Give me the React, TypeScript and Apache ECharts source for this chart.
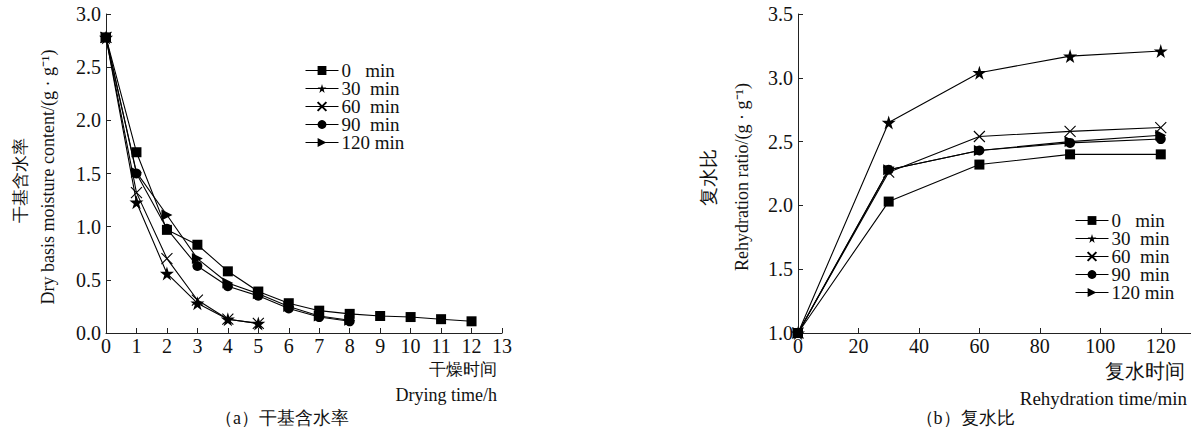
import React, { useEffect, useRef } from "react";
import * as echarts from "echarts";

const legendNames = ["0\u00a0\u00a0\u00a0min", "30\u00a0\u00a0min", "60\u00a0\u00a0min", "90\u00a0\u00a0min", "120\u00a0min"];

// (a) drying
const dryTime = [0, 1, 2, 3, 4, 5, 6, 7, 8, 9, 10, 11, 12];
const dry0 = [2.78, 1.7, 0.97, 0.83, 0.58, 0.39, 0.28, 0.21, 0.18, 0.16, 0.15, 0.13, 0.11];
const dry30 = [2.78, 1.23, 0.56, 0.28, 0.13, 0.09];
const dry60 = [2.78, 1.32, 0.7, 0.31, 0.13, 0.09];
const dry90 = [2.78, 1.5, 0.98, 0.63, 0.44, 0.35, 0.23, 0.15, 0.11];
const dry120 = [2.78, 1.51, 1.11, 0.7, 0.47, 0.37, 0.25, 0.16, 0.12];
const dryXTicks = [0, 1, 2, 3, 4, 5, 6, 7, 8, 9, 10, 11, 12, 13];
const dryYTicks = [0, 0.5, 1.0, 1.5, 2.0, 2.5, 3.0];

// (b) rehydration
const rehyTime = [0, 30, 60, 90, 120];
const rehy0 = [1.0, 2.03, 2.32, 2.4, 2.4];
const rehy30 = [1.0, 2.65, 3.04, 3.17, 3.21];
const rehy60 = [1.0, 2.26, 2.54, 2.58, 2.61];
const rehy90 = [1.0, 2.28, 2.43, 2.49, 2.52];
const rehy120 = [1.0, 2.28, 2.43, 2.5, 2.55];
const rehyXTicks = [0, 20, 40, 60, 80, 100, 120];
const rehyYTicks = [1.0, 1.5, 2.0, 2.5, 3.0, 3.5];

const STAR = "path://M50,0 L61,35 L98,35 L68,57 L79,91 L50,70 L21,91 L32,57 L2,35 L39,35 Z";
const CROSS = "path://M0,0 L10,10 M10,0 L0,10";
const TRI = "path://M0,0 L10,5 L0,10 Z";
const symbols = ["rect", STAR, CROSS, "circle", TRI];
const sizes = [10, 14, 11, 10, 11];

const FONT = "Liberation Serif";

function buildSeries(xs: number[], lists: number[][], idx: number) {
  return lists.map((vals, i) => ({
    type: "line",
    name: legendNames[i],
    xAxisIndex: idx,
    yAxisIndex: idx,
    data: vals.map((v, j) => [xs[j], v]),
    symbol: symbols[i],
    symbolSize: sizes[i],
    showAllSymbol: true,
    lineStyle: { color: "#000", width: 1.1 },
    itemStyle: i === 2 ? { color: "#000", borderColor: "#000", borderWidth: 1.1 } : { color: "#000" },
    z: 3,
  }));
}

function axisCommon() {
  return {
    axisLine: { show: true, lineStyle: { color: "#222", width: 1 } },
    axisTick: { show: true, inside: true, length: 5, lineStyle: { color: "#222" } },
    splitLine: { show: false },
    axisLabel: { color: "#111", fontFamily: FONT, fontSize: 20 },
  };
}

function legendCfg(left: number, top: number) {
  return {
    orient: "vertical", left, top, data: legendNames,
    itemWidth: 33, itemHeight: 11, itemGap: -1, selectedMode: false,
    lineStyle: { width: 1 },
    textStyle: { fontFamily: FONT, fontSize: 19, color: "#111", padding: [0, 0, 0, -2] },
    padding: 0,
  };
}

export default function App() {
  const ref = useRef<HTMLDivElement>(null);
  useEffect(() => {
    if (!ref.current) return;
    const chart = echarts.init(ref.current, null, { renderer: "svg" });
    const c = axisCommon();
    const option: any = {
      animation: false,
      backgroundColor: "#fff",
      textStyle: { fontFamily: FONT },
      grid: [
        { left: 106, top: 14, width: 396, height: 319 },
        { left: 798, top: 14, width: 394, height: 319 },
      ],
      xAxis: [
        {
          gridIndex: 0, type: "value", min: 0, max: 13, interval: 1,
          ...c,
          axisTick: { ...c.axisTick, customValues: dryXTicks },
          axisLabel: { ...c.axisLabel, margin: 3, customValues: dryXTicks },
        },
        {
          gridIndex: 1, type: "value", min: 0, max: 130, interval: 10,
          ...c,
          axisTick: { ...c.axisTick, customValues: rehyXTicks },
          axisLabel: { ...c.axisLabel, margin: 3, customValues: rehyXTicks },
        },
      ],
      yAxis: [
        {
          gridIndex: 0, type: "value", min: 0, max: 3.0, interval: 0.5,
          ...c,
          axisTick: { ...c.axisTick, customValues: dryYTicks },
          axisLabel: { ...c.axisLabel, margin: 5, customValues: dryYTicks, formatter: (v: number) => v.toFixed(1) },
        },
        {
          gridIndex: 1, type: "value", min: 1.0, max: 3.5, interval: 0.5,
          ...c,
          axisTick: { ...c.axisTick, customValues: rehyYTicks },
          axisLabel: { ...c.axisLabel, margin: 5, customValues: rehyYTicks, formatter: (v: number) => v.toFixed(1) },
        },
      ],
      legend: [legendCfg(305, 61), legendCfg(1075, 211)],
      graphic: [
        { type: "text", x: 20, y: 180, rotation: Math.PI / 2, style: { text: "干基含水率", font: `17px ${FONT}`, fill: "#111", align: "center", verticalAlign: "middle" } },
        { type: "text", x: 48, y: 177, rotation: Math.PI / 2, style: { text: "Dry basis moisture content/(g · g⁻¹)", font: `18px ${FONT}`, fill: "#111", align: "center", verticalAlign: "middle" } },
        { type: "text", x: 497, y: 369, style: { text: "干燥时间", font: `17px ${FONT}`, fill: "#111", align: "right", verticalAlign: "middle" } },
        { type: "text", x: 497, y: 395, style: { text: "Drying time/h", font: `18px ${FONT}`, fill: "#111", align: "right", verticalAlign: "middle" } },
        { type: "text", x: 282, y: 418, style: { text: "（a）干基含水率", font: `18px ${FONT}`, fill: "#111", align: "center", verticalAlign: "middle" } },
        { type: "text", x: 708, y: 177, rotation: Math.PI / 2, style: { text: "复水比", font: `19px ${FONT}`, fill: "#111", align: "center", verticalAlign: "middle" } },
        { type: "text", x: 742, y: 177, rotation: Math.PI / 2, style: { text: "Rehydration ratio/(g · g⁻¹)", font: `18px ${FONT}`, fill: "#111", align: "center", verticalAlign: "middle" } },
        { type: "text", x: 1185, y: 371, style: { text: "复水时间", font: `20px ${FONT}`, fill: "#111", align: "right", verticalAlign: "middle" } },
        { type: "text", x: 1187, y: 398, style: { text: "Rehydration time/min", font: `19px ${FONT}`, fill: "#111", align: "right", verticalAlign: "middle" } },
        { type: "text", x: 965, y: 418, style: { text: "（b）复水比", font: `18px ${FONT}`, fill: "#111", align: "center", verticalAlign: "middle" } },
      ],
      series: [
        ...buildSeries(dryTime, [dry0, dry30, dry60, dry90, dry120], 0),
        ...buildSeries(rehyTime, [rehy0, rehy30, rehy60, rehy90, rehy120], 1),
      ],
    };
    chart.setOption(option);
    return () => chart.dispose();
  }, []);
  return <div ref={ref} style={{ position: "fixed", left: 0, top: 0, width: 1191, height: 427 }} />;
}
